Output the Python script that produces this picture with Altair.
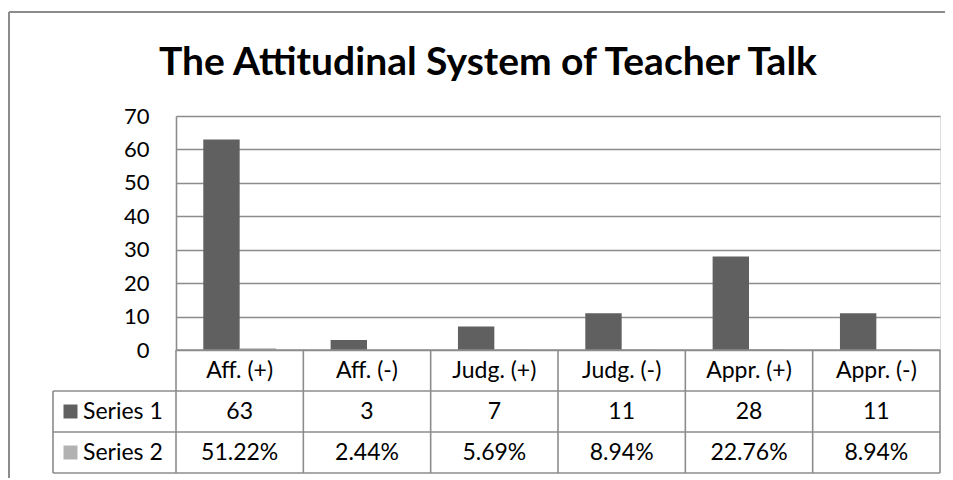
import altair as alt
import pandas as pd

categories = ["Aff. (+)", "Aff. (-)", "Judg. (+)", "Judg. (-)", "Appr. (+)", "Appr. (-)"]
series_names = ["Series 1", "Series 2"]
series1 = [63, 3, 7, 11, 28, 11]
series2 = [0.5122, 0.0244, 0.0569, 0.0894, 0.2276, 0.0894]
series2_labels = ["51.22%", "2.44%", "5.69%", "8.94%", "22.76%", "8.94%"]
series1_labels = [str(v) for v in series1]
y_ticks = [0, 10, 20, 30, 40, 50, 60, 70]
title_text = "The Attitudinal System of Teacher Talk"

series_colors = ["#606060", "#b2b2b2"]
LINE = "#8c8c8c"
FONT = "Lato"
W, H = 764, 234
ROW = 41
LEFT_COL = -123
LW = 1.6
TFS = 23

bars_df = pd.DataFrame({
    "category": categories * 2,
    "series": [series_names[0]] * len(categories) + [series_names[1]] * len(categories),
    "value": series1 + series2,
})
table_df = pd.DataFrame({"category": categories, "s1": series1_labels, "s2": series2_labels})
one = pd.DataFrame({"k": [0]})

x_scale = alt.Scale(domain=categories, paddingInner=0, paddingOuter=0)
y_scale = alt.Scale(domain=[0, 70], nice=False)

bars = alt.Chart(bars_df).mark_bar().encode(
    x=alt.X("category:N", scale=x_scale, axis=None, sort=categories),
    xOffset=alt.XOffset("series:N", scale=alt.Scale(domain=series_names, paddingOuter=0.75, paddingInner=0)),
    y=alt.Y("value:Q", scale=y_scale, axis=alt.Axis(
        values=y_ticks, grid=True, gridColor=LINE, gridWidth=LW, domain=True,
        domainColor=LINE, domainWidth=LW, ticks=False, labelPadding=27,
        labelFont=FONT, labelFontSize=22, labelColor="black", title=None)),
    color=alt.Color("series:N", scale=alt.Scale(domain=series_names, range=series_colors), legend=None),
)

def hrule(y, x0, x1, w=LW):
    return alt.Chart(one).mark_rule(color=LINE, strokeWidth=w).encode(
        x=alt.value(x0), x2=alt.value(x1), y=alt.value(y))

def vrule(x, y0, y1, w=LW):
    return alt.Chart(one).mark_rule(color=LINE, strokeWidth=w).encode(
        x=alt.value(x), y=alt.value(y0), y2=alt.value(y1))

band_lines = alt.Chart(table_df).mark_rule(color=LINE, strokeWidth=LW).encode(
    x=alt.X("category:N", scale=x_scale, bandPosition=0, axis=None, sort=categories),
    y=alt.value(H), y2=alt.value(H + 3 * ROW),
)

layers = [bars, band_lines,
          vrule(W, H, H + 3 * ROW),
          vrule(LEFT_COL, H + ROW, H + 3 * ROW),
          hrule(H, 0, W), hrule(H + ROW, LEFT_COL, W),
          hrule(H + 2 * ROW, LEFT_COL, W), hrule(H + 3 * ROW, LEFT_COL, W),
          # outer chart border
          vrule(-167, -104, 400, 2), hrule(-104, -167, 900, 2)]

def row_text(field, y):
    return alt.Chart(table_df).mark_text(font=FONT, fontSize=TFS, color="black", baseline="middle").encode(
        x=alt.X("category:N", scale=x_scale, axis=None, sort=categories),
        y=alt.value(y), text=f"{field}:N")

layers += [row_text("category", H + ROW / 2), row_text("s1", H + 1.5 * ROW), row_text("s2", H + 2.5 * ROW)]

for i, name in enumerate(series_names):
    ldf = pd.DataFrame({"series": [name]})
    layers.append(alt.Chart(ldf).mark_square(size=196, opacity=1, color=series_colors[i]).encode(
        x=alt.value(LEFT_COL + 17.5), y=alt.value(H + (i + 1.5) * ROW)))
    layers.append(alt.Chart(ldf).mark_text(font=FONT, fontSize=TFS, color="black", align="left", baseline="middle").encode(
        x=alt.value(LEFT_COL + 30), y=alt.value(H + (i + 1.5) * ROW), text="series:N"))

title_df = pd.DataFrame({"t": [title_text]})
layers.append(alt.Chart(title_df).mark_text(font=FONT, fontSize=39, fontWeight="bold", color="black",
                                            baseline="alphabetic", align="center").encode(
    x=alt.value(312), y=alt.value(-41), text="t:N"))

chart = alt.layer(*layers).properties(
    width=W, height=H,
    autosize=alt.AutoSizeParams(type="none"),
    padding={"left": 168, "top": 108, "right": 5, "bottom": 128},
).configure_view(strokeWidth=0).configure(background="white")

chart.save("out.html", embed_options={"renderer": "svg", "actions": False})
